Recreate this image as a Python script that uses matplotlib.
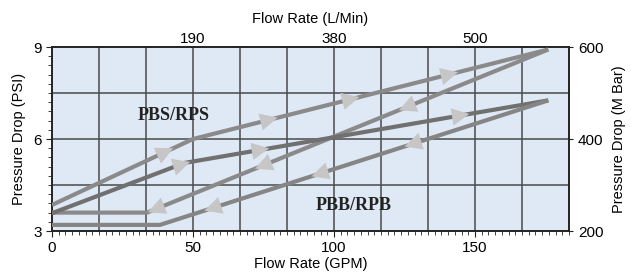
import numpy as np
import matplotlib.pyplot as plt
from matplotlib.ticker import MultipleLocator

plt.rcParams['font.family'] = ['Liberation Sans', 'DejaVu Sans']

# line vertices (GPM, PSI)
upper_fwd_x = [0, 50, 176]
upper_fwd_y = [3.85, 6.0, 8.92]
upper_ret_x = [176, 33.7, 0]
upper_ret_y = [8.92, 3.6, 3.6]
lower_fwd_x = [0, 47, 176]
lower_fwd_y = [3.58, 5.22, 7.26]
lower_ret_x = [176, 38.3, 0]
lower_ret_y = [7.26, 3.2, 3.2]

# arrow positions along each line (GPM)
upper_fwd_arrows = [40, 77, 106, 141]
upper_ret_arrows = [126, 75, 37]
lower_fwd_arrows = [46, 74, 145]
lower_ret_arrows = [95, 128, 57]

bottom_ticks = [0, 50, 100, 150]
top_ticks = [50, 100, 150]
top_labels = ['190', '380', '500']
right_ticks = [200, 400, 600]

fig = plt.figure(figsize=(6.31, 2.73), dpi=100)
ax = fig.add_axes([0.0824, 0.1538, 0.8193, 0.674])
ax.set_facecolor('#dfe9f5')
ax.set_xlim(0, 550 / 3)
ax.set_ylim(3, 9)

for gx in np.arange(50 / 3, 550 / 3 - 1, 50 / 3):
    ax.axvline(gx, color='#4a4a4a', lw=1.1, zorder=1)
for gy in [4.5, 6, 7.5]:
    ax.axhline(gy, color='#4a4a4a', lw=1.1, zorder=1)


def draw_line(xs, ys, color, arrows, forward):
    ax.plot(xs, ys, color=color, lw=3, solid_capstyle='butt', zorder=3)
    order = np.argsort(xs)
    sx = np.array(xs)[order]
    sy = np.array(ys)[order]
    for a in arrows:
        d = 3.0 if forward else -3.0
        x0, x1 = a - d, a + d
        y0, y1 = np.interp(x0, sx, sy), np.interp(x1, sx, sy)
        ax.annotate('', xy=(x1, y1), xytext=(x0, y0),
                    arrowprops=dict(arrowstyle='-|>,head_length=0.9,head_width=0.45',
                                    color='#c6c6c6', lw=0, shrinkA=0, shrinkB=0,
                                    mutation_scale=14),
                    zorder=4)


draw_line(upper_fwd_x, upper_fwd_y, '#8a8a8a', upper_fwd_arrows, True)
draw_line(upper_ret_x, upper_ret_y, '#8a8a8a', upper_ret_arrows, False)
draw_line(lower_fwd_x, lower_fwd_y, '#707070', lower_fwd_arrows, True)
draw_line(lower_ret_x, lower_ret_y, '#858585', lower_ret_arrows, False)

ax.text(43, 6.77, 'PBS/RPS', family='Liberation Serif', weight='bold',
        fontsize=13, ha='center', va='center', color='#222222', zorder=5)
ax.text(107, 3.82, 'PBB/RPB', family='Liberation Serif', weight='bold',
        fontsize=13, ha='center', va='center', color='#222222', zorder=5)

for s in ax.spines.values():
    s.set_linewidth(1.4)
    s.set_color('#222222')

ax.set_xticks(bottom_ticks)
ax.xaxis.set_minor_locator(MultipleLocator(50 / 21))
ax.set_yticks([3, 6, 9])
ax.yaxis.set_minor_locator(MultipleLocator(0.3))
ax.tick_params(which='both', direction='out', color='#222222', labelsize=11)
ax.tick_params(which='major', length=4)
ax.tick_params(which='minor', length=3)
ax.set_xlabel('Flow Rate (GPM)', fontsize=10.5, labelpad=1)
ax.set_ylabel('Pressure Drop (PSI)', fontsize=10.5, labelpad=5)

top = ax.twiny()
top.set_xlim(ax.get_xlim())
top.set_xticks(top_ticks, labels=top_labels)
top.tick_params(length=0, labelsize=11, pad=1)
top.set_xlabel('Flow Rate (L/Min)', fontsize=10.5, labelpad=6)
for s in top.spines.values():
    s.set_visible(False)

right = ax.twinx()
right.set_ylim(200, 600)
right.set_yticks(right_ticks)
right.tick_params(length=3, labelsize=11, color='#222222')
right.set_ylabel('Pressure Drop (M Bar)', fontsize=10.5, labelpad=6)
for s in right.spines.values():
    s.set_visible(False)

fig.savefig('out.png', dpi=100)
